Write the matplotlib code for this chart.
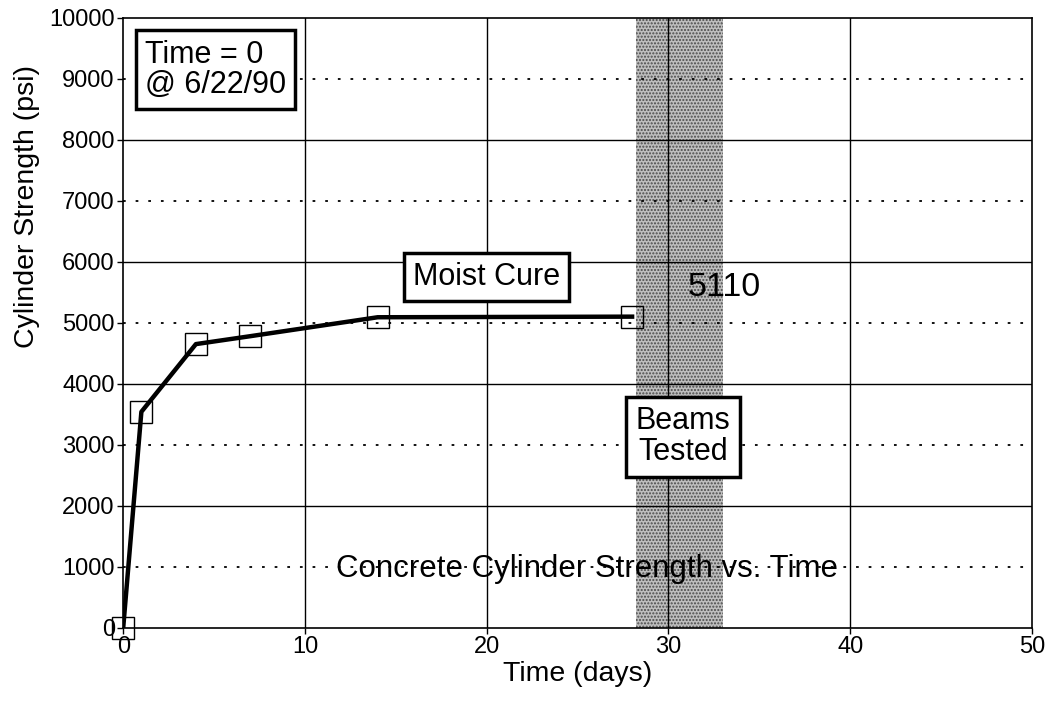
import matplotlib
matplotlib.use("Agg")
import matplotlib.pyplot as plt

plt.rcParams['font.family'] = ['Liberation Sans', 'DejaVu Sans']

# cylinder test data
days = [0, 1, 4, 7, 14, 28]
strength = [0, 3540, 4650, 4780, 5090, 5100]
test_window = (28.2, 33.0)

x_ticks = [0, 10, 20, 30, 40, 50]
y_ticks = list(range(0, 10001, 1000))

fig = plt.figure(figsize=(10.53, 7.07), dpi=100)
ax = fig.add_axes([0.117, 0.112, 0.863, 0.863])

ax.set_xlim(0, 50)
ax.set_ylim(0, 10000)
ax.set_xticks(x_ticks)
ax.set_yticks(y_ticks)
ax.tick_params(labelsize=17, length=4, width=1, direction='out', pad=2)

# grid: solid on even thousands, dotted on odd
for y in y_ticks[1:-1]:
    if y % 2000 == 0:
        ax.axhline(y, color='black', lw=1.0, zorder=1)
    else:
        ax.axhline(y, color='black', lw=1.3, ls=(0, (1.5, 5.5)), zorder=1)
for x in x_ticks[1:-1]:
    ax.axvline(x, color='black', lw=1.0, zorder=1)

# beams tested window
plt.rcParams['hatch.linewidth'] = 1.0
ax.axvspan(test_window[0], test_window[1], facecolor='#bebebe',
           edgecolor='#4a4a4a', hatch='.....', lw=0, zorder=0.5)

ax.plot(days, strength, color='black', lw=3.2, zorder=3)
ax.plot(days, strength, ls='none', marker='s', ms=16, mfc='none',
        mec='black', mew=1.0, zorder=4, clip_on=False)

box = dict(boxstyle='square,pad=0.3', facecolor='white', edgecolor='black', lw=2.5)
ax.text(1.2, 9150, "Time = 0\n@ 6/22/90", fontsize=22, ha='left', va='center',
        linespacing=1.0, bbox=box, zorder=5)
ax.text(20.0, 5750, "Moist Cure", fontsize=22, ha='center', va='center',
        bbox=box, zorder=5)
ax.text(30.8, 3130, "Beams\nTested", fontsize=22, ha='center', va='center',
        linespacing=1.05, bbox=box, zorder=5)
ax.text(33.1, 5570, "5110", fontsize=24.5, ha='center', va='center', zorder=5)
ax.text(25.5, 960, "Concrete Cylinder Strength vs. Time", fontsize=22.5,
        ha='center', va='center', zorder=2)

ax.set_xlabel("Time (days)", fontsize=20.5, labelpad=2)
ax.set_ylabel("Cylinder Strength (psi)", fontsize=20.5)
ax.yaxis.set_label_coords(-0.092, 0.69)

for s in ax.spines.values():
    s.set_linewidth(1.2)

fig.savefig("out.png", dpi=100)
